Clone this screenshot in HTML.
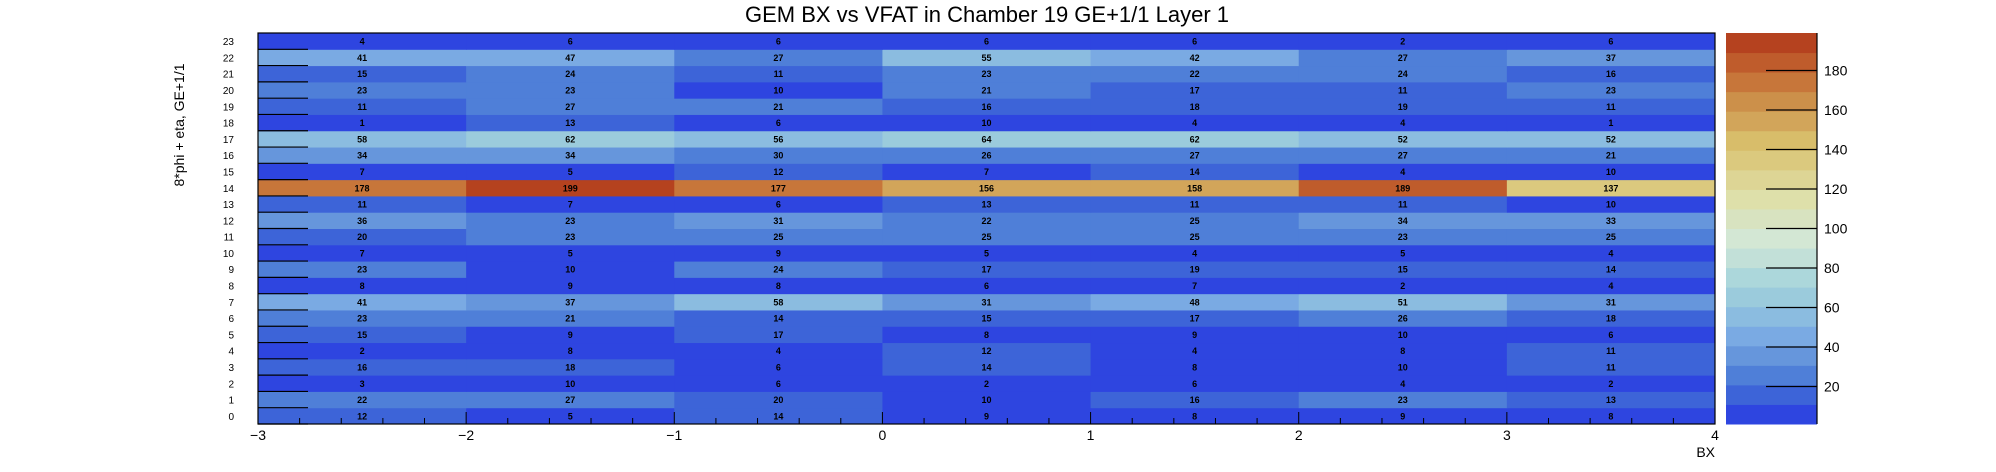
<!DOCTYPE html>
<html><head><meta charset="utf-8"><style>html,body{margin:0;padding:0;background:#fff}svg{display:block}</style></head>
<body>
<svg id="chart" width="1996" height="472" xmlns="http://www.w3.org/2000/svg" font-family="Liberation Sans, sans-serif">
<text x="987" y="22" font-size="22" text-anchor="middle">GEM BX vs VFAT in Chamber 19 GE+1/1 Layer 1</text>
<text transform="translate(184,125) rotate(-90)" font-size="14" text-anchor="middle">8*phi + eta, GE+1/1</text>
<text x="1715" y="457" font-size="14" text-anchor="end">BX</text>
<g id="cells"></g><g id="axes"></g><g id="palette"></g>
</svg>
<script>
const bxCategories=[-3,-2,-1,0,1,2,3];
const rowCategories=[0,1,2,3,4,5,6,7,8,9,10,11,12,13,14,15,16,17,18,19,20,21,22,23];
// counts[row][bx]
const row0=[12,5,14,9,8,9,8];
const row1=[22,27,20,10,16,23,13];
const row2=[3,10,6,2,6,4,2];
const row3=[16,18,6,14,8,10,11];
const row4=[2,8,4,12,4,8,11];
const row5=[15,9,17,8,9,10,6];
const row6=[23,21,14,15,17,26,18];
const row7=[41,37,58,31,48,51,31];
const row8=[8,9,8,6,7,2,4];
const row9=[23,10,24,17,19,15,14];
const row10=[7,5,9,5,4,5,4];
const row11=[20,23,25,25,25,23,25];
const row12=[36,23,31,22,25,34,33];
const row13=[11,7,6,13,11,11,10];
const row14=[178,199,177,156,158,189,137];
const row15=[7,5,12,7,14,4,10];
const row16=[34,34,30,26,27,27,21];
const row17=[58,62,56,64,62,52,52];
const row18=[1,13,6,10,4,4,1];
const row19=[11,27,21,16,18,19,11];
const row20=[23,23,10,21,17,11,23];
const row21=[15,24,11,23,22,24,16];
const row22=[41,47,27,55,42,27,37];
const row23=[4,6,6,6,6,2,6];
const counts=[row0,row1,row2,row3,row4,row5,row6,row7,row8,row9,row10,row11,row12,row13,row14,row15,row16,row17,row18,row19,row20,row21,row22,row23];
const xTicks=[-3,-2,-1,0,1,2,3,4];
const zTicks=[20,40,60,80,100,120,140,160,180];
const paletteColors=["#2e45e0","#3d64d8","#4f7fd8","#6696dc","#7aaae3","#8bbce0","#9bcbdc","#acd7db","#c2e0d8","#d3e7d4","#d8e3c0","#dee0aa","#ddd595","#dbc97e","#d8bd6a","#d2a55a","#cc904a","#c7763a","#bf5c2c","#b5421f"];
const NS="http://www.w3.org/2000/svg";
const L=258,R=1715,T=33,B=424;
const xMin=-3,xMax=4,yMin=-0.5,yMax=23.5;
const sx=v=>L+(v-xMin)/(xMax-xMin)*(R-L);
const sy=v=>B-(v-yMin)/(yMax-yMin)*(B-T);
const zMin=1,zMax=199;
const PL=1726,PR=1817;
const sz=v=>B-(v-zMin)/(zMax-zMin)*(B-T);
function colorOf(v){let i=Math.floor((v-zMin)/(zMax-zMin)*paletteColors.length);i=Math.max(0,Math.min(paletteColors.length-1,i));return paletteColors[i];}
function mk(tag,attrs,parent){const e=document.createElementNS(NS,tag);for(const k in attrs)e.setAttribute(k,attrs[k]);parent.appendChild(e);return e;}
const cells=document.getElementById('cells'),axes=document.getElementById('axes'),pal=document.getElementById('palette');
rowCategories.forEach((r,ri)=>{bxCategories.forEach((bx,ci)=>{
 const v=counts[ri][ci];
 const x0=sx(bx),x1=sx(bx+1),y0=sy(r+0.5),y1=sy(r-0.5);
 const c=mk('rect',{x:x0,y:y0,width:x1-x0+0.5,height:y1-y0+0.5,fill:colorOf(v)},cells);
 
 
 const t=mk('text',{x:(x0+x1)/2,y:(y0+y1)/2+3.5,'font-size':9,'font-weight':'bold','text-anchor':'middle'},cells);
 t.textContent=v;
 
 
});});
const frame=mk('rect',{x:L,y:T,width:R-L,height:B-T,fill:'none',stroke:'#000','stroke-width':1.2},axes);


xTicks.forEach((v,i)=>{
 mk('line',{x1:sx(v),x2:sx(v),y1:B,y2:B-12,stroke:'#000'},axes);
 if(i<xTicks.length-1)for(let k=1;k<5;k++){const xv=v+k*0.2;mk('line',{x1:sx(xv),x2:sx(xv),y1:B,y2:B-6,stroke:'#000'},axes);}
 const t=mk('text',{x:sx(v),y:B+16,'font-size':14,'text-anchor':'middle'},axes);
 t.textContent=(v<0?'\u2212'+(-v):v);
 
 
});
rowCategories.forEach(r=>{
 mk('line',{x1:L,x2:L+50,y1:sy(r-0.5),y2:sy(r-0.5),stroke:'#000','stroke-width':1.2},axes);
 const t=mk('text',{x:L-24,y:sy(r)+4,'font-size':10,'text-anchor':'end'},axes);
 t.textContent=r;
 
 
});
paletteColors.forEach((c,i)=>{
 const v0=zMin+i*(zMax-zMin)/paletteColors.length,v1=zMin+(i+1)*(zMax-zMin)/paletteColors.length;
 const r=mk('rect',{x:PL,y:sz(v1),width:PR-PL,height:sz(v0)-sz(v1)+0.5,fill:c},pal);
 
 
});
mk('line',{x1:PR,x2:PR,y1:T,y2:B,stroke:'#000','stroke-width':1.2},pal);
zTicks.forEach(v=>{
 mk('line',{x1:PR-51,x2:PR,y1:sz(v),y2:sz(v),stroke:'#000','stroke-width':1.2},pal);
 const t=mk('text',{x:PR+7,y:sz(v)+5,'font-size':14},pal);
 t.textContent=v;
 
 
});
</script>
</body></html>
